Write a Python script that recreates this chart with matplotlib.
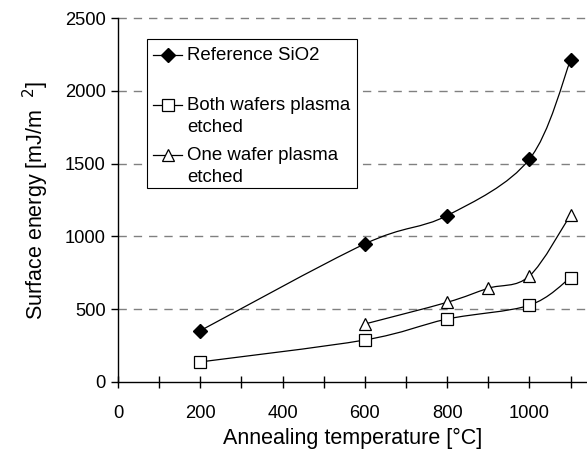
import numpy as np
import matplotlib.pyplot as plt
from matplotlib.path import Path
from matplotlib.patches import PathPatch, Rectangle
from matplotlib.lines import Line2D

plt.rcParams['font.family'] = ['Liberation Sans', 'DejaVu Sans']
plt.rcParams['mathtext.fontset'] = 'custom'
plt.rcParams['mathtext.rm'] = 'Liberation Sans'
plt.rcParams['mathtext.it'] = 'Liberation Sans'

# data
ref_temp = [200, 600, 800, 1000, 1100]
ref_energy = [351, 948, 1143, 1531, 2212]
both_temp = [200, 600, 800, 1000, 1100]
both_energy = [136, 287, 431, 526, 716]
one_temp = [600, 800, 900, 1000, 1100]
one_energy = [397, 546, 643, 727, 1147]

labels = [['Reference SiO2'], ['Both wafers plasma', 'etched'], ['One wafer plasma', 'etched']]
xticks_major = np.arange(0, 1101, 100)
xtick_labels = [str(v) if v % 200 == 0 and v <= 1000 else '' for v in xticks_major]
yticks = np.arange(0, 2501, 500)

W, H = 587, 459


def fx(x):
    return x / W


def fy(y):
    return 1 - y / H


def smooth_curve(ax, xs, ys, **kw):
    # excel-like smoothed line: cubic bezier through the points, built in display space
    pts = ax.transData.transform(np.column_stack([xs, ys]))
    n = len(pts)
    verts = [pts[0]]
    codes = [Path.MOVETO]
    for i in range(n - 1):
        p0 = pts[i - 1] if i > 0 else pts[i]
        p1, p2 = pts[i], pts[i + 1]
        p3 = pts[i + 2] if i + 2 < n else pts[i + 1]
        c1 = p1 + (p2 - p0) / 6.0
        c2 = p2 - (p3 - p1) / 6.0
        verts += [c1, c2, p2]
        codes += [Path.CURVE4] * 3
    verts = ax.transData.inverted().transform(np.array(verts))
    ax.add_patch(PathPatch(Path(verts, codes), fill=False, **kw))


fig = plt.figure(figsize=(5.87, 4.59), dpi=100)
ax = fig.add_axes([fx(118), fy(381.7), fx(587 - 118), 363.4 / H])
ax.set_xlim(0, 1140)
ax.set_ylim(0, 2500)

for y in yticks[1:]:
    ax.axhline(y, color='#808080', lw=1.0, ls=(0, (6, 5)), zorder=0, clip_on=False)

lw = 0.9
for xs, ys in [(ref_temp, ref_energy), (both_temp, both_energy), (one_temp, one_energy)]:
    smooth_curve(ax, xs, ys, color='black', lw=lw, zorder=2)

styles = [dict(marker='D', ms=7.5, mfc='black', mec='black'),
          dict(marker='s', ms=8, mfc='white', mec='black', mew=0.9),
          dict(marker='^', ms=8.5, mfc='white', mec='black', mew=0.9)]

ax.plot(ref_temp, ref_energy, ls='none', zorder=3, **styles[0])
ax.plot(both_temp, both_energy, ls='none', zorder=3, **styles[1])
ax.plot(one_temp, one_energy, ls='none', zorder=3, **styles[2])

# legend drawn by hand so the entries sit like in the reference
fig.add_artist(Rectangle((fx(147), fy(188)), fx(357 - 147), (188 - 39) / H,
                         transform=fig.transFigure, facecolor='white', edgecolor='black',
                         lw=0.8, zorder=5))
for i, (lab, st) in enumerate(zip(labels, styles)):
    yc = 55 + 50 * i
    fig.add_artist(Line2D([fx(153), fx(182)], [fy(yc), fy(yc)], color='black', lw=lw,
                          transform=fig.transFigure, zorder=6))
    fig.add_artist(Line2D([fx(167.5)], [fy(yc)], ls='none', transform=fig.transFigure,
                          zorder=7, **st))
    for j, line in enumerate(lab):
        fig.text(fx(187), fy(yc + 22 * j), line, fontsize=13.4, va='center', ha='left', zorder=7)

for s in ['top', 'right']:
    ax.spines[s].set_visible(False)
ax.spines['left'].set_linewidth(1.0)
ax.spines['bottom'].set_linewidth(1.0)

ax.set_xticks(xticks_major)
ax.set_xticklabels(xtick_labels)
ax.set_yticks(yticks)
ax.tick_params(axis='x', direction='inout', length=8, width=1, labelsize=13.2, pad=13)
ax.tick_params(axis='y', direction='out', length=5, width=1, labelsize=13.2, pad=4)

ax.set_xlabel('Annealing temperature [°C]', fontsize=15.5, labelpad=4)
ax.set_ylabel('Surface energy [mJ/m  $^{\\mathregular{\\mathsf{2}}}$]', fontsize=15.5, labelpad=10)

fig.savefig('out.png', dpi=100)
